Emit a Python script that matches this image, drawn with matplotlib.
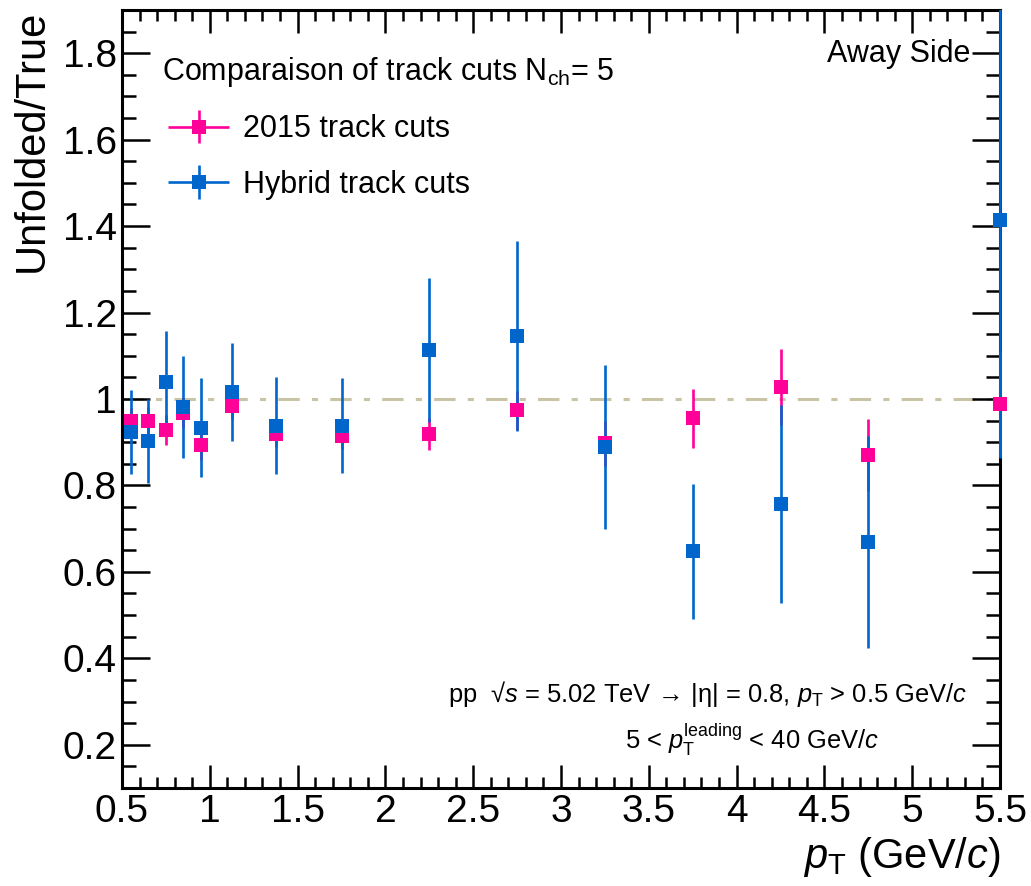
import matplotlib
matplotlib.use("Agg")
import matplotlib.pyplot as plt
from matplotlib.container import ErrorbarContainer
from matplotlib.legend_handler import HandlerErrorbar
from matplotlib.ticker import MultipleLocator, FormatStrFormatter
from matplotlib.transforms import Bbox, TransformedBbox

# ---- data ----
pt = [0.55, 0.65, 0.75, 0.85, 0.95, 1.125, 1.375, 1.75, 2.25, 2.75, 3.25, 3.75, 4.25, 4.75, 5.5]
cuts2015 = [0.950, 0.950, 0.928, 0.967, 0.893, 0.984, 0.919, 0.914, 0.918, 0.974, 0.898, 0.955, 1.027, 0.870, 0.988]
err2015 = [0.030, 0.032, 0.035, 0.035, 0.035, 0.030, 0.030, 0.030, 0.037, 0.045, 0.052, 0.068, 0.088, 0.083, 0.120]
hybrid = [0.923, 0.902, 1.039, 0.981, 0.934, 1.016, 0.938, 0.938, 1.113, 1.145, 0.889, 0.648, 0.757, 0.669, 1.415]
errhyb = [0.097, 0.097, 0.118, 0.118, 0.115, 0.114, 0.112, 0.110, 0.166, 0.220, 0.190, 0.156, 0.229, 0.245, 0.551]
labels = ["2015 track cuts", "Hybrid track cuts"]
xlim = (0.5, 5.5)
ylim = (0.1, 1.9)

PINK = "#ff0099"
BLUE = "#0066cc"

plt.rcParams['font.family'] = ['Liberation Sans', 'DejaVu Sans']
plt.rcParams['mathtext.fontset'] = 'custom'
plt.rcParams['mathtext.rm'] = 'Liberation Sans'
plt.rcParams['mathtext.it'] = 'Liberation Sans:italic'
plt.rcParams['mathtext.bf'] = 'Liberation Sans:bold'

fig = plt.figure(figsize=(10.31, 8.86), dpi=100)
ax = fig.add_axes([122/1031, 1-788/886, 878/1031, 778/886])

# reference line at 1
ref = ax.axhline(1.0, color="#c9c4a6", lw=2.2, zorder=1)
ref.set_dashes([7, 4, 2, 4])

lw = 1.9
ms = 9.4
c1 = ax.errorbar(pt, cuts2015, yerr=err2015, xerr=[0]*len(pt), fmt='s', color=PINK,
                 ms=ms, mew=0, elinewidth=lw, capsize=0, label=labels[0])
c2 = ax.errorbar(pt, hybrid, yerr=errhyb, xerr=[0]*len(pt), fmt='s', color=BLUE,
                 ms=ms, mew=0, elinewidth=lw, capsize=0, label=labels[1])

# clip vertically to the frame, but let marks at the edges spill over horizontally
clipbox = TransformedBbox(Bbox([[-0.05, 0.0], [1.05, 1.0]]), ax.transAxes)
for cont, zbar, zmark in ((c1, 3.4, 3.7), (c2, 3.5, 4.0)):
    for bc in cont[2]:
        bc.set_zorder(zbar)
        bc.set_clip_path(None)
        bc.set_clip_box(clipbox)
    cont[0].set_zorder(zmark)
    cont[0].set_clip_path(None)
    cont[0].set_clip_box(clipbox)

ax.set_xlim(*xlim)
ax.set_ylim(*ylim)

ax.xaxis.set_major_locator(MultipleLocator(0.5))
ax.xaxis.set_minor_locator(MultipleLocator(0.1))
ax.yaxis.set_major_locator(MultipleLocator(0.2))
ax.yaxis.set_minor_locator(MultipleLocator(0.05))
ax.xaxis.set_major_formatter(FormatStrFormatter('%g'))
ax.yaxis.set_major_formatter(FormatStrFormatter('%g'))

ax.tick_params(which='both', direction='in', top=True, right=True, width=1.8)
ax.tick_params(which='major', labelsize=28)
ax.tick_params(axis='x', which='major', length=16.3, pad=4)
ax.tick_params(axis='x', which='minor', length=8.2)
ax.tick_params(axis='y', which='major', length=20, pad=3.6)
ax.tick_params(axis='y', which='minor', length=10)
for s in ax.spines.values():
    s.set_linewidth(2.2)

ax.set_ylabel("Unfolded/True", fontsize=30, loc='top')
ax.yaxis.set_label_coords(-0.080, 1.0)
ax.set_xlabel(r"$p_{\rm T}$ (GeV/$c$)", fontsize=30, loc='right')
ax.xaxis.set_label_coords(1.0, -0.060)

ax.text(0.0456, 0.910, r"Comparaison of track cuts N$_{\rm ch}$= 5", transform=ax.transAxes,
        fontsize=22, ha='left', va='baseline')
ax.text(0.9658, 0.933, "Away Side", transform=ax.transAxes,
        fontsize=22, ha='right', va='baseline')

leg = ax.legend(handles=[c1, c2], labels=labels, loc='upper left',
                bbox_to_anchor=(0.0524, 0.866), frameon=False, fontsize=22,
                handlelength=2.0, handletextpad=0.45, labelspacing=0.83,
                borderpad=0, borderaxespad=0,
                handler_map={ErrorbarContainer: HandlerErrorbar(xerr_size=1.0, yerr_size=0.55)})

ax.text(0.9624, 0.110, r"pp  √$s$ = 5.02 TeV $\!\rightarrow\!$ |η| = 0.8, $p_{\rm T}$ > 0.5 GeV/$c$",
        transform=ax.transAxes, fontsize=18.4, ha='right', va='baseline')
ax.text(0.7175, 0.050, r"5 < $p_{\rm T}^{\rm leading}$ < 40 GeV/$c$",
        transform=ax.transAxes, fontsize=18.4, ha='center', va='baseline')

fig.savefig("out.png", dpi=100)
